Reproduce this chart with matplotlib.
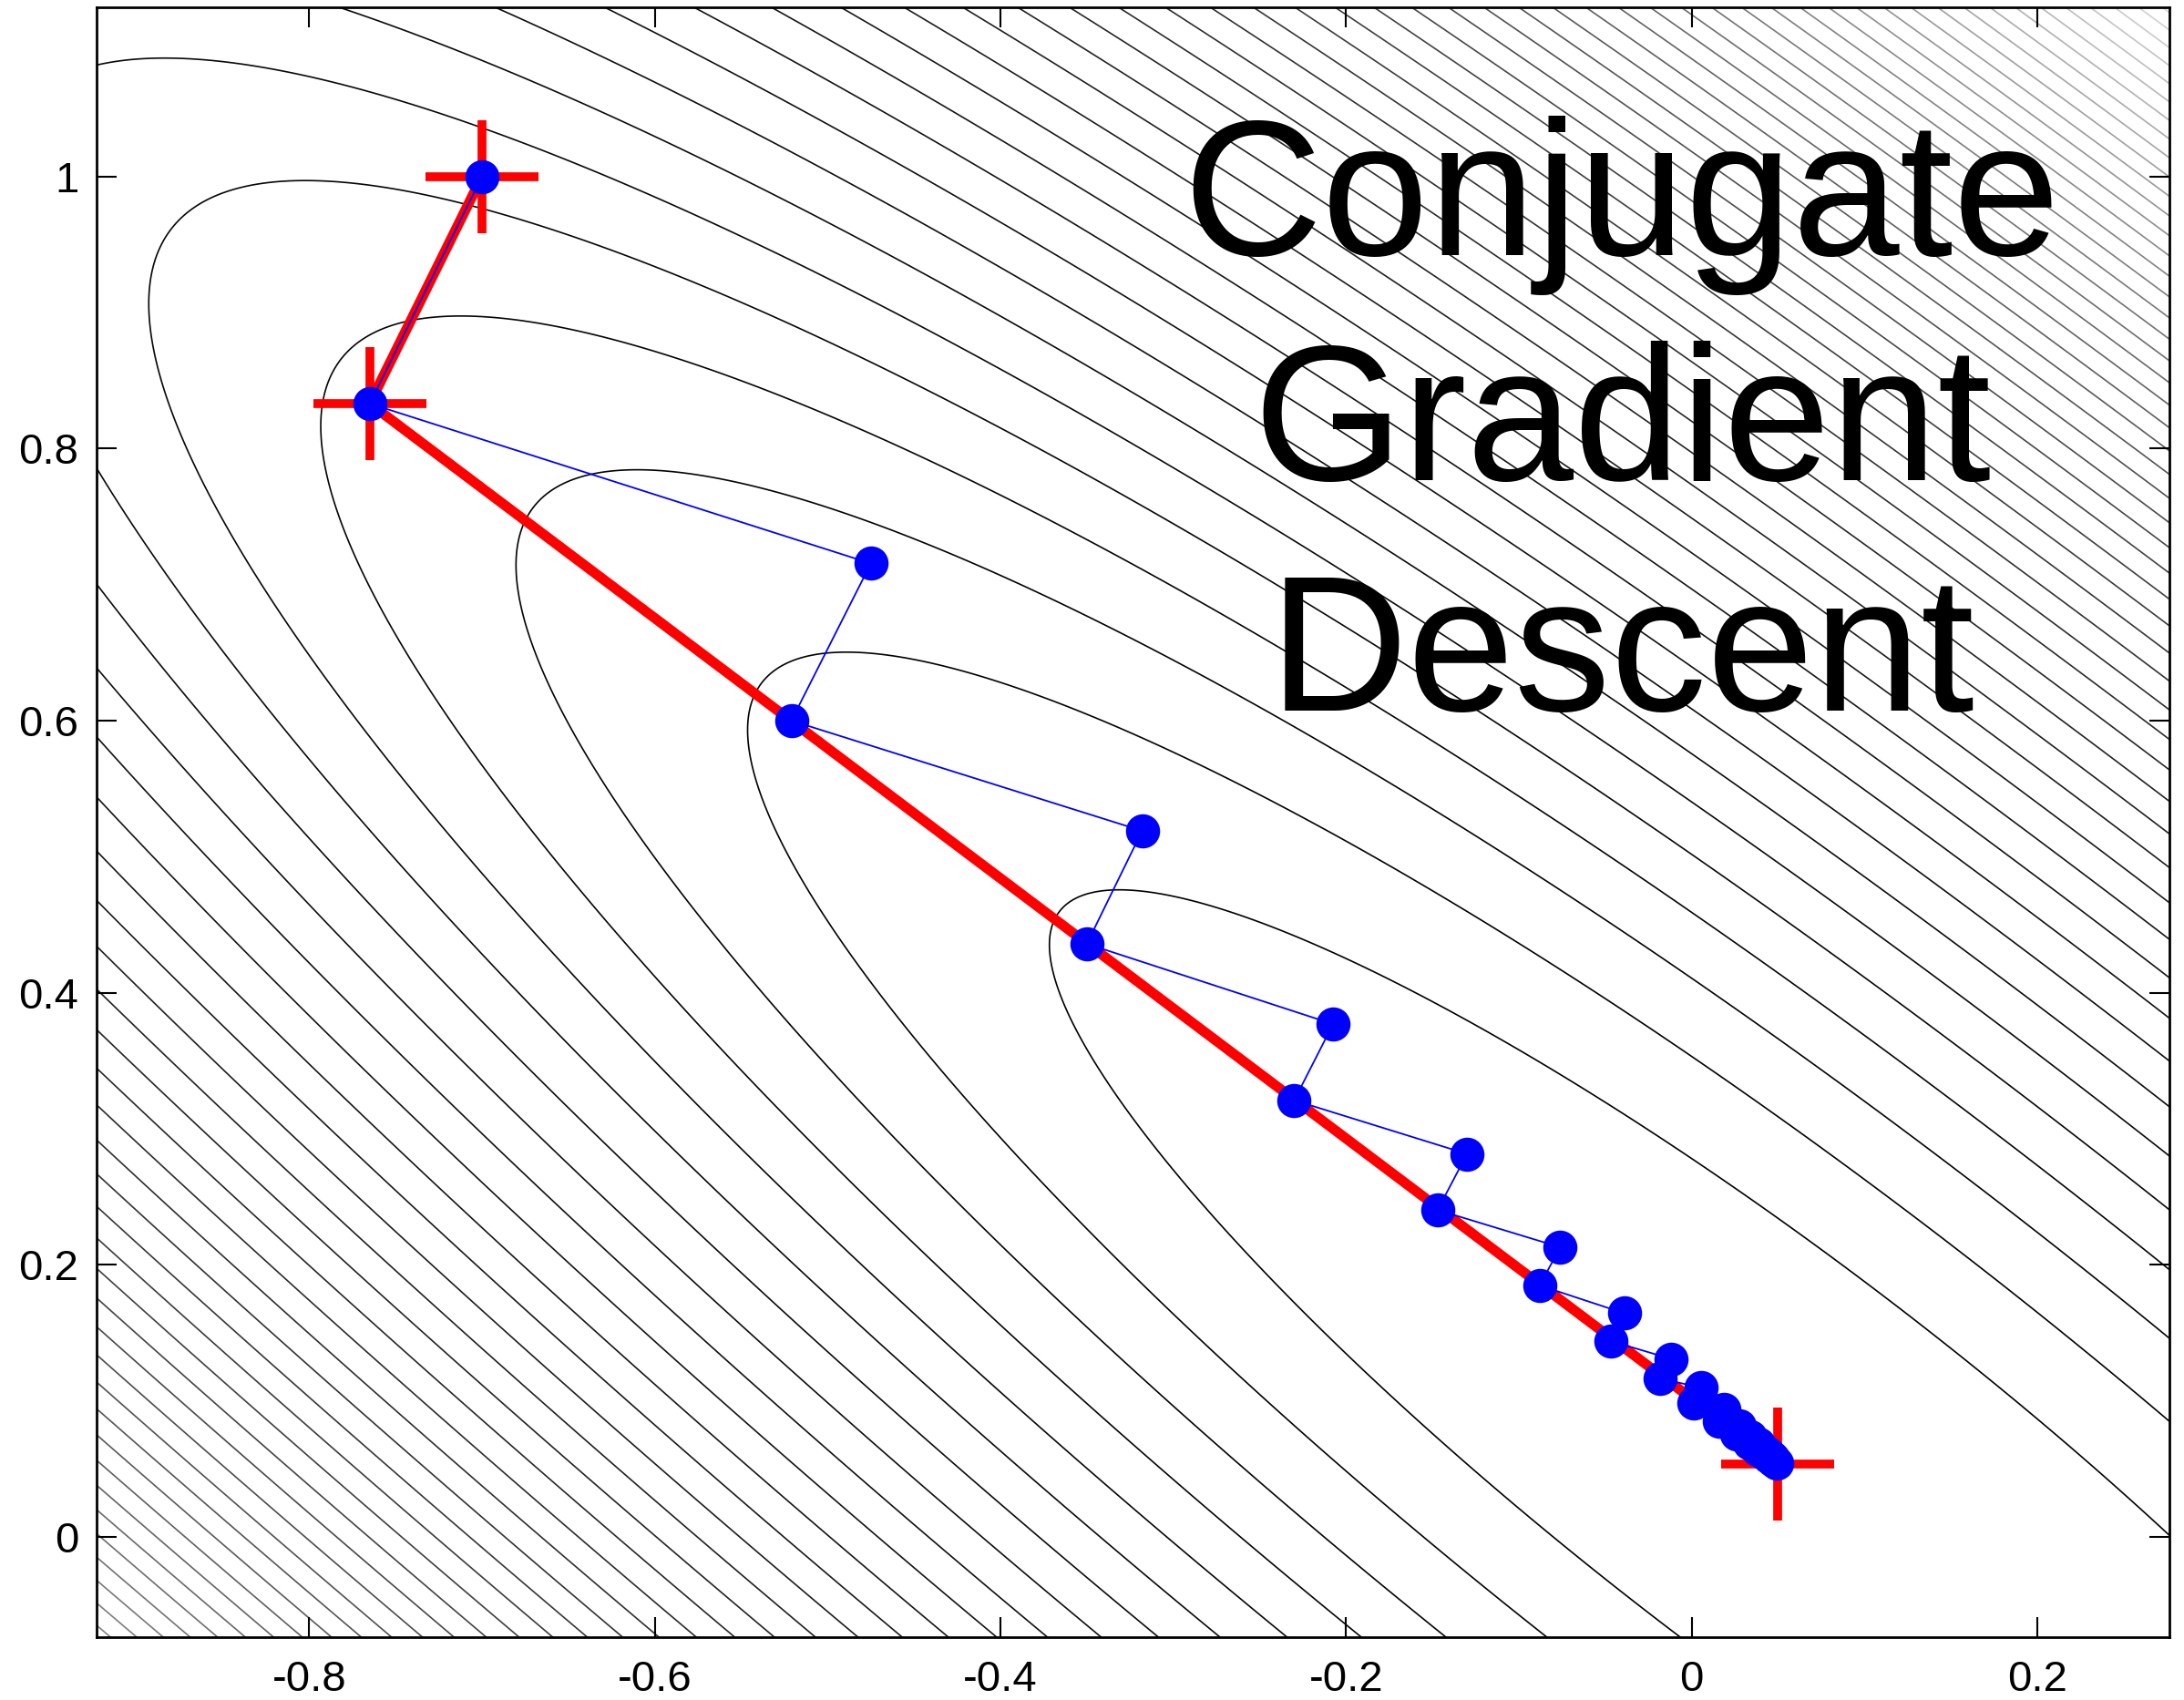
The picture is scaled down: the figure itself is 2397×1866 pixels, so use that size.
import matplotlib
matplotlib.use("Agg")
import matplotlib.pyplot as plt
import numpy as np

plt.rcParams['font.family'] = ['Liberation Sans', 'DejaVu Sans']
plt.rcParams['axes.unicode_minus'] = False

# quadratic bowl f = a*dx^2 + 2*b*dx*dy + c*dy^2 around its minimum
bowl_min = (0.05, 0.054)
bowl_a, bowl_b, bowl_c = 1.0, 0.904, 1.0
level_step = 0.0325
n_levels = 60

# conjugate gradient path (red)
cg_x = [-0.700, -0.765, 0.050]
cg_y = [1.000, 0.833, 0.054]

# plain gradient descent path (blue)
gd_x = [-0.700, -0.765, -0.475, -0.521, -0.318, -0.350, -0.2075, -0.230,
        -0.130, -0.147, -0.076, -0.088, -0.039, -0.0465, -0.012, -0.018,
        0.0056, 0.0012, 0.0185, 0.0158, 0.0276, 0.0261, 0.0341, 0.0333,
        0.0387, 0.0383, 0.0420, 0.0418, 0.0443, 0.0443, 0.0460, 0.0460,
        0.0471, 0.0472, 0.0495]
gd_y = [1.000, 0.833, 0.7155, 0.600, 0.519, 0.436, 0.377, 0.321,
        0.2816, 0.2404, 0.213, 0.185, 0.1645, 0.144, 0.131, 0.1165,
        0.1098, 0.0986, 0.0936, 0.0852, 0.0821, 0.0758, 0.0740, 0.0693,
        0.0682, 0.0647, 0.0640, 0.0615, 0.0611, 0.0592, 0.0590, 0.0577,
        0.0576, 0.0566, 0.0545]

x_ticks = [-0.8, -0.6, -0.4, -0.2, 0, 0.2]
x_tick_labels = ['-0.8', '-0.6', '-0.4', '-0.2', '0', '0.2']
y_ticks = [0, 0.2, 0.4, 0.6, 0.8, 1]
y_tick_labels = ['0', '0.2', '0.4', '0.6', '0.8', '1']
title_lines = ['Conjugate', 'Gradient', 'Descent']

fig = plt.figure(figsize=(23.97, 18.66), dpi=100)
ax = fig.add_axes([0.04405, 0.03698, 0.94911, 0.95857])

# contour field
xx, yy = np.meshgrid(np.linspace(-0.95, 0.30, 700), np.linspace(-0.10, 1.15, 700))
dx = xx - bowl_min[0]
dy = yy - bowl_min[1]
zz = bowl_a * dx**2 + 2 * bowl_b * dx * dy + bowl_c * dy**2
k = np.arange(1, n_levels + 1)
levels = level_step * k
shade = np.clip((k / 56.0) ** 1.5, 0, 0.95)
ax.contour(xx, yy, zz, levels=levels, colors=[str(s) for s in shade],
           linewidths=1.2, zorder=1)

# paths
ax.plot(cg_x, cg_y, '-', color='red', lw=8, zorder=3, solid_capstyle='butt')
ax.plot(cg_x, cg_y, '+', color='red', ms=89, mew=7, zorder=3, linestyle='none')
ax.plot(gd_x, gd_y, '-o', color='blue', lw=1.3, ms=26, zorder=4)

# big label
baselines = [0.848, 0.710, 0.5686]
for line, yb in zip(title_lines, baselines):
    ax.text(0.736, yb, line, transform=ax.transAxes, ha='center', va='baseline',
            fontsize=152, color='black', zorder=5)

ax.set_xlim(-0.9233, 0.2763)
ax.set_ylim(-0.0735, 1.124)
ax.set_xticks(x_ticks)
ax.set_xticklabels(x_tick_labels)
ax.set_yticks(y_ticks)
ax.set_yticklabels(y_tick_labels)
ax.tick_params(direction='in', length=16, width=1.5, labelsize=34,
               top=True, right=True)
ax.tick_params(axis='x', pad=18)
ax.tick_params(axis='y', pad=14)
for s in ax.spines.values():
    s.set_linewidth(2)

fig.savefig('out.png', dpi=100)
